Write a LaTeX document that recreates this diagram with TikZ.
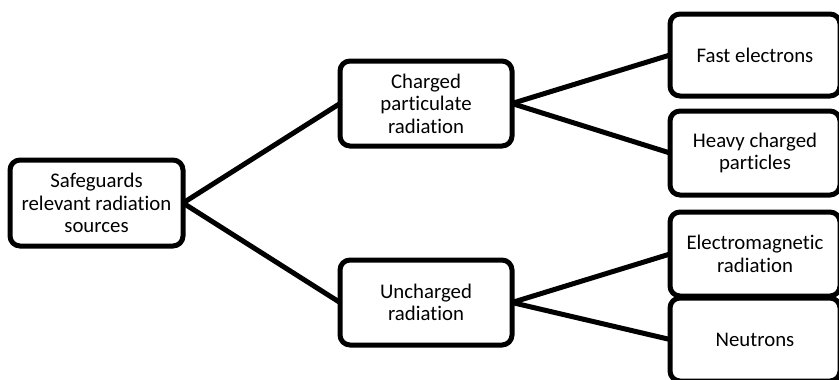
\documentclass[tikz,border=0pt]{standalone}
\usepackage{fontspec}
\setmainfont{Carlito}[Ligatures=NoCommon]
\begin{document}
\begin{tikzpicture}[x=1pt,y=-1pt,
  box/.style={draw=black, line width=5pt, rounded corners=10pt, fill=white,
    align=center, inner sep=0pt, outer sep=0pt,
    font=\fontsize{20.8}{22.5}\selectfont},
  wide/.style={minimum width=173pt, minimum height=86pt},
  leaf/.style={minimum width=170pt, minimum height=84pt},
  link/.style={draw=black, line width=5pt}]
\clip (0,0) rectangle (839,380);
\fill[white] (0,0) rectangle (839,380);

% root
\node[box, wide] (root) at (96.5,203) {Safeguards\\relevant radiation\\sources};

% second level
\node[box, minimum width=172pt, minimum height=85pt] (charged) at (426,103.5) {Charged\\particulate\\radiation};
\node[box, minimum width=172pt, minimum height=85pt] (uncharged) at (426,302.5) {Uncharged\\radiation};

% leaves
\node[box, leaf, minimum height=82pt] (fast) at (755,55) {Fast electrons};
\node[box, leaf] (heavy) at (755,153) {Heavy charged\\particles};
\node[box, leaf] (em) at (755,254) {Electromagnetic\\radiation};
\node[box, leaf, minimum height=83pt] (neutrons) at (755,339.5) {Neutrons};

% connectors
\draw[link] (root.east) -- (charged.west);
\draw[link] (root.east) -- (uncharged.west);
\draw[link] (charged.east) -- (fast.west);
\draw[link] (charged.east) -- (heavy.west);
\draw[link] (uncharged.east) -- (em.west);
\draw[link] (uncharged.east) -- (neutrons.west);
\end{tikzpicture}
\end{document}
